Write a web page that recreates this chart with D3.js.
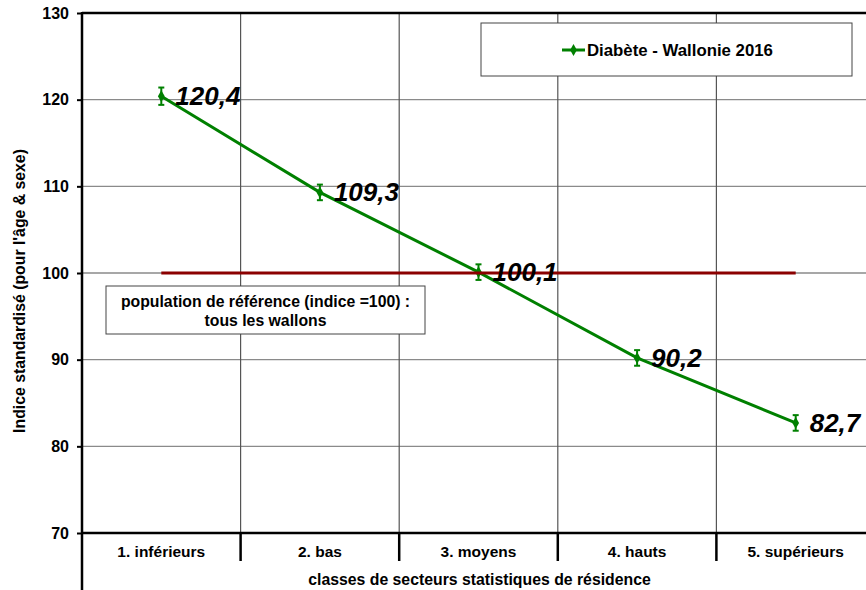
<!DOCTYPE html>
<html><head><meta charset="utf-8">
<script src="https://cdn.jsdelivr.net/npm/d3@7"></script>
<style>body{margin:0;background:#fff}svg{display:block;font-family:"Liberation Sans",Arial,sans-serif}</style>
</head><body><svg id="c" width="866" height="590"></svg>
<script>
const categories = ["1. inférieurs","2. bas","3. moyens","4. hauts","5. supérieurs"];
const values = [120.4,109.3,100.1,90.2,82.7];
const labels = ["120,4","109,3","100,1","90,2","82,7"];
const lower = [119.4,108.4,99.2,89.3,81.8];
const upper = [121.4,110.2,101.0,91.1,83.6];
const reference = 100;
const yTicks = [70,80,90,100,110,120,130];
const seriesName = "Diabète - Wallonie 2016";
const refNote = ["population de référence (indice =100) :","tous les wallons"];
const xTitle = "classes de secteurs statistiques de résidence";
const yTitle = "Indice standardisé (pour l'âge & sexe)";

const svg = d3.select("#c");
const L=82, R=875, T=13, B=533;
const x = d3.scaleBand().domain(categories).range([L,R]);
const y = d3.scaleLinear().domain([70,130]).range([B,T]);
const green="#008000", dark="#8b0000";

// grid
svg.append("g").selectAll("line").data(yTicks.filter(v=>v>70&&v<130)).join("line")
 .attr("x1",L).attr("x2",R).attr("y1",d=>y(d)).attr("y2",d=>y(d)).attr("stroke","#8a8a8a").attr("stroke-width",1.3);
svg.append("g").selectAll("line").data(categories.slice(1)).join("line")
 .attr("x1",d=>x(d)).attr("x2",d=>x(d)).attr("y1",T).attr("y2",B).attr("stroke","#555").attr("stroke-width",1.2);

// axes frames
const yAxis = d3.axisLeft(y).tickValues(yTicks).tickSize(5).tickPadding(8);
const gy = svg.append("g").attr("transform",`translate(${L},0)`).call(yAxis);
gy.select(".domain").remove();
gy.selectAll("line").attr("stroke","#000").attr("stroke-width",2);
gy.selectAll("text").attr("font-size",16).attr("font-weight","bold").attr("fill","#000").attr("font-family","Liberation Sans, Arial");
svg.append("line").attr("x1",L).attr("x2",L).attr("y1",T-1).attr("y2",590).attr("stroke","#000").attr("stroke-width",2.5);
svg.append("line").attr("x1",L).attr("x2",R).attr("y1",T).attr("y2",T).attr("stroke","#000").attr("stroke-width",2.5);
svg.append("line").attr("x1",L).attr("x2",R).attr("y1",B).attr("y2",B).attr("stroke","#000").attr("stroke-width",2.5);

const xAxis = d3.axisBottom(x).tickSize(0).tickPadding(13);
const gx = svg.append("g").attr("transform",`translate(0,${B})`).call(xAxis);
gx.select(".domain").remove();
gx.selectAll("text").attr("font-size",15.5).attr("font-weight","bold").attr("fill","#000").attr("font-family","Liberation Sans, Arial");
svg.append("g").selectAll("line").data(categories.slice(1)).join("line")
 .attr("x1",d=>x(d)).attr("x2",d=>x(d)).attr("y1",B).attr("y2",561).attr("stroke","#000").attr("stroke-width",2.5);

svg.append("text").attr("x",479.5).attr("y",585).attr("text-anchor","middle")
 .attr("font-size",15.8).attr("font-weight","bold").text(xTitle);
svg.append("text").attr("transform",`translate(25,${291}) rotate(-90)`).attr("text-anchor","middle")
 .attr("font-size",15.8).attr("font-weight","bold").text(yTitle);

// ref note box
svg.append("rect").attr("x",106).attr("y",286).attr("width",319).attr("height",48).attr("fill","#fff").attr("stroke","#444").attr("stroke-width",1);
svg.append("text").attr("x",265.5).attr("y",307).attr("text-anchor","middle").attr("font-size",15.8).attr("font-weight","bold")
 .selectAll("tspan").data(refNote).join("tspan").attr("x",265.5).attr("dy",(d,i)=>i?19:0).text(d=>d);

// series
const cx = i=>x(categories[i])+x.bandwidth()/2;
const line = d3.line().x((d,i)=>cx(i)).y(d=>y(d));
svg.append("path").datum(values).attr("d",line).attr("fill","none").attr("stroke",green).attr("stroke-width",3);
const eb = svg.append("g").attr("stroke",green).attr("stroke-width",2);
values.forEach((v,i)=>{
  eb.append("line").attr("x1",cx(i)).attr("x2",cx(i)).attr("y1",y(lower[i])).attr("y2",y(upper[i]));
  eb.append("line").attr("x1",cx(i)-3).attr("x2",cx(i)+3).attr("y1",y(lower[i])).attr("y2",y(lower[i]));
  eb.append("line").attr("x1",cx(i)-3).attr("x2",cx(i)+3).attr("y1",y(upper[i])).attr("y2",y(upper[i]));
});
const diamond = d3.symbol().type(d3.symbolDiamond).size(40);
svg.append("g").selectAll("path").data(values).join("path")
 .attr("transform",(d,i)=>`translate(${cx(i)},${y(d)})`).attr("d",diamond).attr("fill",green);

// reference line (drawn over the series)
svg.append("line").attr("x1",x(categories[0])+x.bandwidth()/2).attr("x2",x(categories[4])+x.bandwidth()/2)
 .attr("y1",y(reference)).attr("y2",y(reference)).attr("stroke",dark).attr("stroke-width",3);

svg.append("g").selectAll("text").data(values).join("text")
 .attr("x",(d,i)=>cx(i)+14).attr("y",d=>y(d)+9).attr("font-size",26).attr("font-weight","bold").attr("font-style","italic")
 .text((d,i)=>labels[i]);

// legend
svg.append("rect").attr("x",481).attr("y",23).attr("width",371).attr("height",53).attr("fill","#fff").attr("stroke","#444").attr("stroke-width",1);
svg.append("line").attr("x1",562).attr("x2",585).attr("y1",50).attr("y2",50).attr("stroke",green).attr("stroke-width",3);
svg.append("path").attr("transform","translate(573.5,50)").attr("d",diamond).attr("fill",green);
svg.append("text").attr("x",587).attr("y",56).attr("font-size",16.8).attr("font-weight","bold").text(seriesName);
</script></body></html>
